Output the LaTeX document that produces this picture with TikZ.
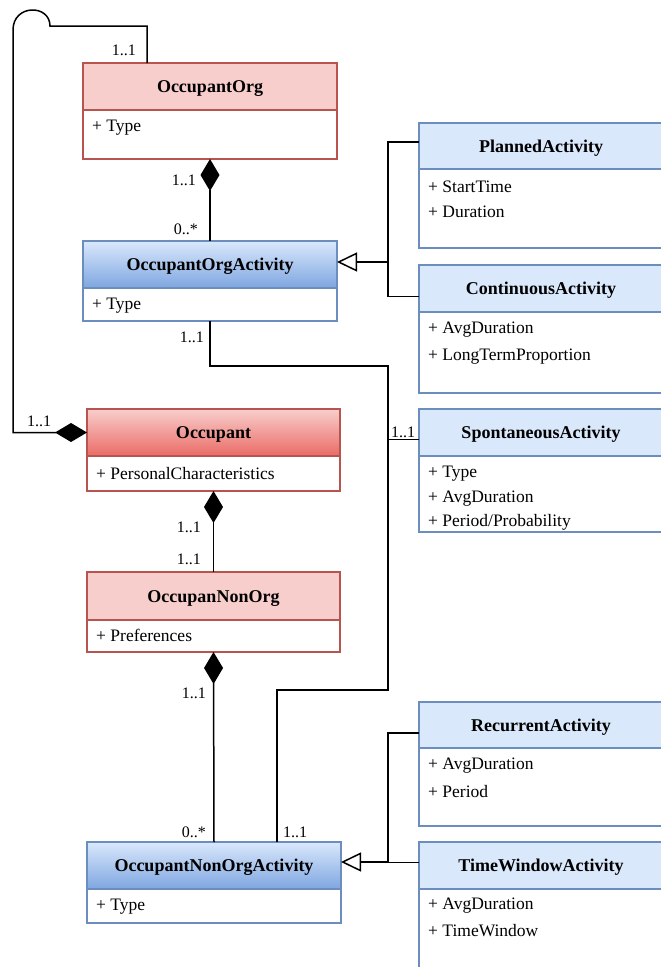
\documentclass[tikz,border=0pt]{standalone}
\usepackage{fontspec}
\setmainfont{Liberation Serif}
\usetikzlibrary{arrows.meta}
\definecolor{redfill}{HTML}{F8CECC}
\definecolor{redline}{HTML}{B85450}
\definecolor{redbot}{HTML}{EA6B66}
\definecolor{bluefill}{HTML}{DAE8FC}
\definecolor{blueline}{HTML}{6C8EBF}
\definecolor{bluebot}{HTML}{7EA6E0}
\tikzset{
  hdr/.style={draw, line width=1.2pt, outer sep=0pt, inner sep=0pt, text height=13pt, text depth=1pt, font=\fontsize{18}{20}\selectfont\bfseries},
  redh/.style={hdr, draw=redline, fill=redfill},
  redg/.style={hdr, draw=redline, top color=redfill, bottom color=redbot},
  blueh/.style={hdr, draw=blueline, fill=bluefill},
  blueg/.style={hdr, draw=blueline, top color=bluefill, bottom color=bluebot},
  redb/.style={draw=redline, fill=white, line width=1.2pt, outer sep=0pt, inner sep=0pt},
  blueb/.style={draw=blueline, fill=white, line width=1.2pt, outer sep=0pt, inner sep=0pt},
  attr/.style={anchor=west, inner sep=0pt, yshift=-2.5pt, font=\fontsize{17.5}{20}\selectfont},
  lbl/.style={inner sep=0pt, font=\fontsize{16}{18}\selectfont},
  conn/.style={draw=black, line width=1.5pt},
  comp/.style={conn, -{Diamond[length=32pt,width=19pt]}},
  gen/.style={conn, -{Triangle[open, length=20pt, width=19pt, fill=white]}}
}
% #1 name, #2 x1, #3 y1, #4 x2, #5 y header bottom, #6 y2, #7 header style, #8 body style, #9 title
\newcommand\umlbox[9]{%
  \node[#7, anchor=north west, minimum width={(#4-#2)*1pt}, minimum height={(#5-#3)*1pt}] (#1H) at (#2,-#3) {#9};
  \node[#8, anchor=north west, minimum width={(#4-#2)*1pt}, minimum height={(#6-#5)*1pt}] (#1B) at (#1H.south west) {};
}
\begin{document}
\begin{tikzpicture}[x=1pt,y=1pt]
\useasboundingbox (0,0) rectangle (661,-967);
\clip (0,0) rectangle (661,-967);

% classes
\umlbox{Org}{83}{63}{337}{110}{159}{redh}{redb}{OccupantOrg}
\umlbox{OrgAct}{83}{241}{337}{288}{321}{blueg}{blueb}{OccupantOrgActivity}
\umlbox{Occ}{87}{409}{340}{456}{491}{redg}{redb}{Occupant}
\umlbox{NonOrg}{87}{572}{340}{620}{652}{redh}{redb}{OccupanNonOrg}
\umlbox{NonOrgAct}{87}{842}{341}{889}{923}{blueg}{blueb}{OccupantNonOrgActivity}
\umlbox{Plan}{419}{123}{663}{169}{248}{blueh}{blueb}{PlannedActivity}
\umlbox{Cont}{419}{265}{663}{312}{393}{blueh}{blueb}{ContinuousActivity}
\umlbox{Spon}{419}{409}{663}{456}{532}{blueh}{blueb}{SpontaneousActivity}
\umlbox{Rec}{419}{702}{663}{748}{826}{blueh}{blueb}{RecurrentActivity}
\umlbox{TW}{419}{842}{663}{889}{995}{blueh}{blueb}{TimeWindowActivity}

% attributes
\node[attr] (OrgA1) at (92,-125) {+ Type};
\node[attr] (OrgActA1) at (92,-303) {+ Type};
\node[attr] (OccA1) at (96,-471) {+ PersonalCharacteristics};
\node[attr] (NonOrgA1) at (96,-633) {+ Preferences};
\node[attr] (NonOrgActA1) at (96,-904) {+ Type};
\node[attr] (PlanA1) at (428,-184) {+ StartTime};
\node[attr] (PlanA2) at (428,-209) {+ Duration};
\node[attr] (ContA1) at (428,-327) {+ AvgDuration};
\node[attr] (ContA2) at (428,-354) {+ LongTermProportion};
\node[attr] (SponA1) at (428,-471) {+ Type};
\node[attr] (SponA2) at (428,-496) {+ AvgDuration};
\node[attr] (SponA3) at (428,-520) {+ Period/Probability};
\node[attr] (RecA1) at (428,-763) {+ AvgDuration};
\node[attr] (RecA2) at (428,-789) {+ Period};
\node[attr] (TWA1) at (428,-903) {+ AvgDuration};
\node[attr] (TWA2) at (428,-928) {+ TimeWindow};

% compositions
\draw[comp] (OrgActH.north) -- (OrgB.south);
\draw[comp] (NonOrgH.north) -- (OccB.south);
\draw[comp] (NonOrgActH.north) -- (NonOrgB.south);

% self loop
\coordinate (S3) at (147,-26);
\coordinate (S2) at (50,-26);
\coordinate (S1) at (13,-30);
\draw[comp] (S3 |- OrgH.north) -- (S3) -- (S2) .. controls (50,-4) and (13,-4) .. (S1) -- (S1 |- OccH.west) -- (OccH.west);

% generalizations
\coordinate (G1) at (388,-262);
\draw[conn] ([yshift=4pt]PlanH.west) -| (G1);
\draw[conn] ([yshift=-8pt]ContH.west) -| (G1);
\draw[gen] (G1) -- (G1 -| OrgActH.east);
\coordinate (G2) at (388,-862);
\draw[conn] ([yshift=-8pt]RecH.west) -| (G2);
\draw[conn] ([yshift=3pt]TWH.west) -| (G2);
\draw[gen] (G2) -- (G2 -| NonOrgActH.east);

% association
\coordinate (A1) at (388,-366);
\coordinate (A2) at (388,-690);
\coordinate (A3) at (277,-690);
\draw[conn] (OrgActB.south) |- (A1) -- (A2) -- (A3) -- (A3 |- NonOrgActH.north);
\draw[conn] ([yshift=-7pt]SponH.west) -- ([yshift=-7pt]SponH.west -| A1);

% multiplicities
\node[lbl, anchor=east] (l1) at (136,-50) {1..1};
\node[lbl, anchor=east] (l2) at (196,-180) {1..1};
\node[lbl, anchor=east] (l3) at (198,-229) {0..*};
\node[lbl, anchor=east] (l4) at (204,-337) {1..1};
\node[lbl, anchor=west] (l5) at (27,-421) {1..1};
\node[lbl, anchor=west] (l6) at (391,-432) {1..1};
\node[lbl, anchor=east] (l7) at (201,-527) {1..1};
\node[lbl, anchor=east] (l8) at (201,-559) {1..1};
\node[lbl, anchor=east] (l9) at (206,-693) {1..1};
\node[lbl, anchor=east] (l10) at (206,-832) {0..*};
\node[lbl, anchor=west] (l11) at (283,-832) {1..1};
\end{tikzpicture}
\end{document}
